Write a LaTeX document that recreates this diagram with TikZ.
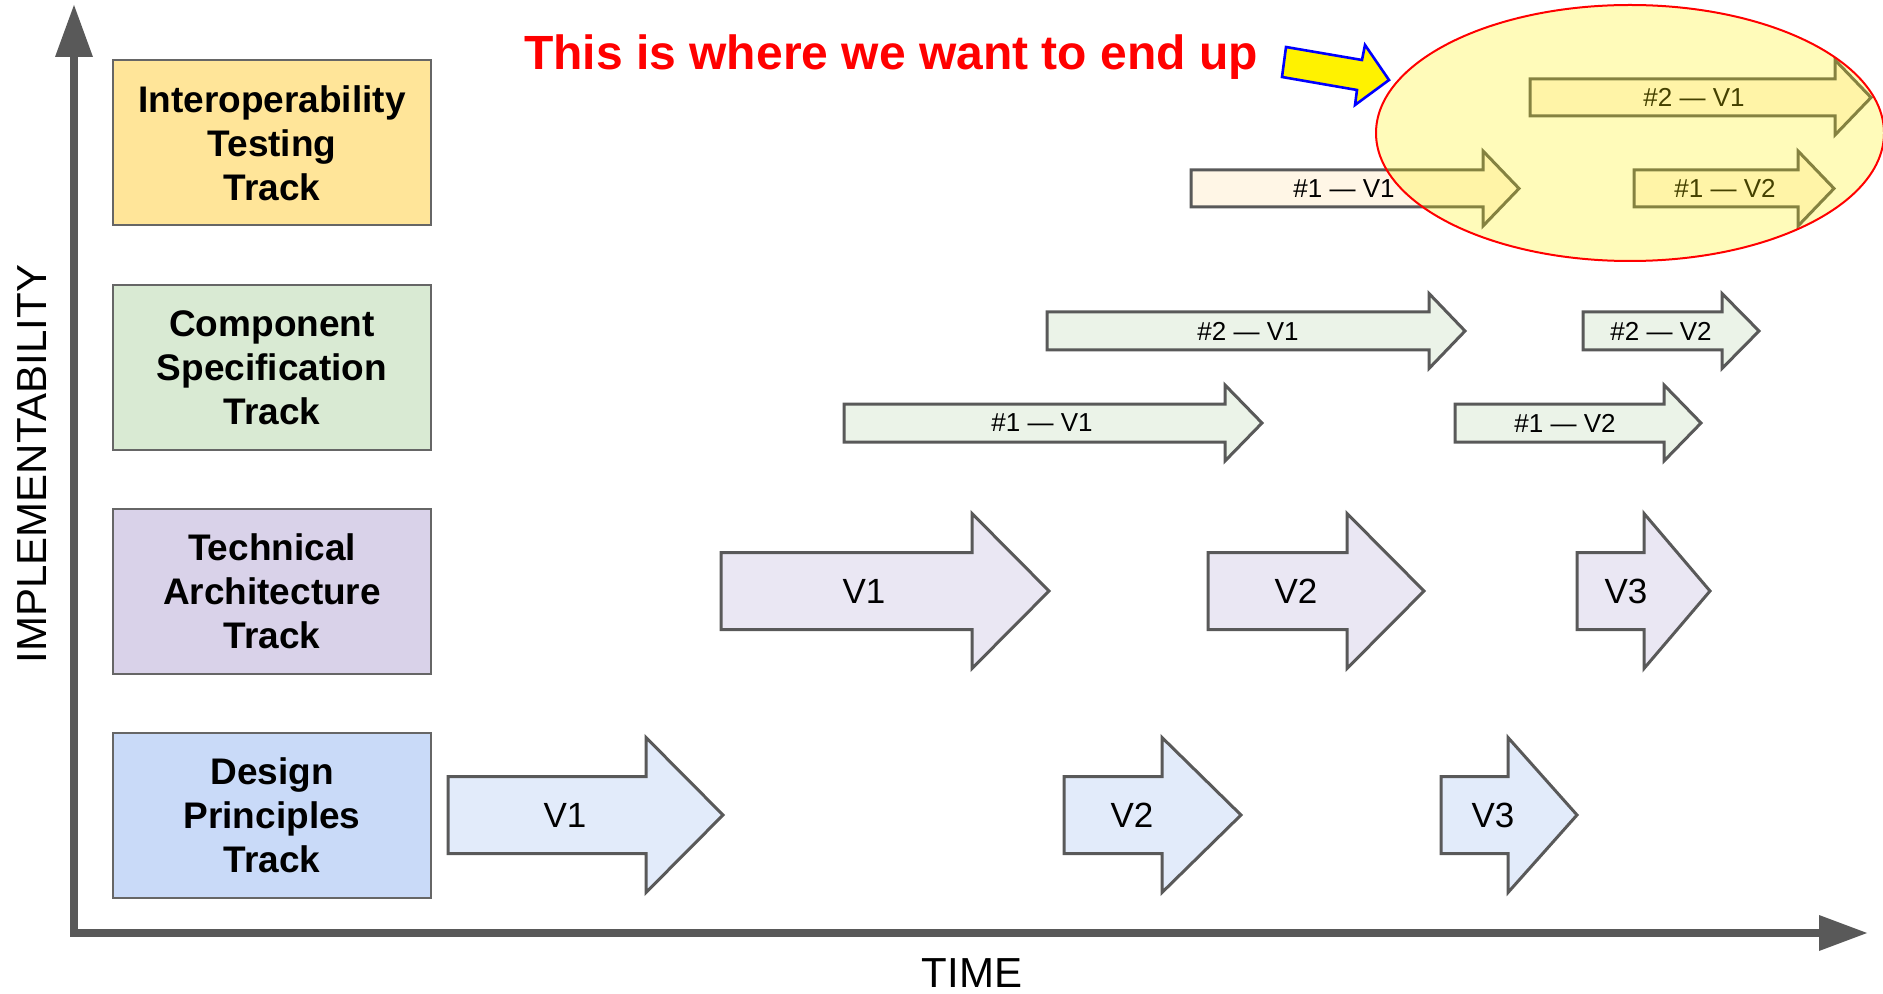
\documentclass[tikz,border=0pt]{standalone}
\usepackage{fontspec}
\setmainfont{Liberation Sans}
\usetikzlibrary{shapes.geometric}
\definecolor{axisgray}{HTML}{595959}
\definecolor{boxgray}{HTML}{666666}
\definecolor{interopfill}{HTML}{FFE599}
\definecolor{compfill}{HTML}{D9EAD3}
\definecolor{techfill}{HTML}{D9D2E9}
\definecolor{designfill}{HTML}{C9DAF8}
\definecolor{darrow}{HTML}{E2EBFA}
\definecolor{tarrow}{HTML}{EAE7F3}
\definecolor{carrow}{HTML}{EBF3E8}
\definecolor{iarrow}{HTML}{FFF6E6}
\newcommand\trackarrow[8]{%
  \draw[#1] ({#3},{#6-#7}) -- ({#4},{#6-#7}) -- ({#4},{#6-#8}) -- ({#5},{#6})
    -- ({#4},{#6+#8}) -- ({#4},{#6+#7}) -- ({#3},{#6+#7}) -- cycle;
  \coordinate (#2) at ({#3},{#6});}
\begin{document}
\begin{tikzpicture}[x=0.5pt,y=-0.5pt,
  trackbox/.style={draw=boxgray, line width=1pt, minimum width=159pt, minimum height=82.5pt,
    align=center, font=\fontsize{18.5}{22}\selectfont\bfseries, inner sep=0pt},
  arr/.style={draw=axisgray, line width=1.5pt, line join=miter},
  biglabel/.style={font=\fontsize{17.5}{20}\selectfont, inner sep=0pt},
  smalllabel/.style={font=\fontsize{13}{15}\selectfont, inner sep=0pt},
  axislabel/.style={font=\fontsize{21}{24}\selectfont, inner sep=0pt}]
\useasboundingbox (0,0) rectangle (1883,994);

% axes
\coordinate (origin) at (74,933);
\coordinate (ytip) at (74,5);
\coordinate (xtip) at (1867,933);
\draw[axisgray, line width=4pt] (70,933) -- (74,933) -- (74,55);
\draw[axisgray, line width=4pt] (origin) -- (1822,933);
\fill[axisgray] (ytip) -- (93,57) -- (55,57) -- cycle;
\fill[axisgray] (xtip) -- (1819,915) -- (1819,951) -- cycle;
\node[axislabel, rotate=90] (ylab) at (32,464) {IMPLEMENTABILITY};
\node[axislabel] (xlab) at (972,973) {TIME};

% track boxes
\node[trackbox, fill=interopfill] (interop) at (272,143) {Interoperability\\Testing\\Track};
\node[trackbox, fill=compfill] (comp) at (272,367.5) {Component\\Specification\\Track};
\node[trackbox, fill=techfill] (tech) at (272,591.5) {Technical\\Architecture\\Track};
\node[trackbox, fill=designfill] (design) at (272,815.5) {Design\\Principles\\Track};

% design principles arrows
\trackarrow{arr, fill=darrow}{dv1}{448}{646}{723}{815}{38.5}{77.5}
\node[biglabel] (ldv1) at (565,815) {V1};
\trackarrow{arr, fill=darrow}{dv2}{1064}{1162}{1241}{815}{38.5}{77.5}
\node[biglabel] (ldv2) at (1132,815) {V2};
\trackarrow{arr, fill=darrow}{dv3}{1441}{1508}{1577}{815}{38.5}{77.5}
\node[biglabel] (ldv3) at (1493,815) {V3};

% technical architecture arrows
\trackarrow{arr, fill=tarrow}{tv1}{721}{972}{1049}{591}{38.5}{77.5}
\node[biglabel] (ltv1) at (864,591) {V1};
\trackarrow{arr, fill=tarrow}{tv2}{1208}{1347}{1424}{591}{38.5}{77.5}
\node[biglabel] (ltv2) at (1296,591) {V2};
\trackarrow{arr, fill=tarrow}{tv3}{1577}{1644}{1710}{591}{38.5}{77.5}
\node[biglabel] (ltv3) at (1626,591) {V3};

% component specification arrows
\trackarrow{arr, fill=carrow}{c2v1}{1047}{1429}{1465}{331}{19}{37.5}
\node[smalllabel] (lc2v1) at (1248,331) {\#2 — V1};
\trackarrow{arr, fill=carrow}{c2v2}{1583}{1722}{1759}{331}{19}{37.5}
\node[smalllabel] (lc2v2) at (1661,331) {\#2 — V2};
\trackarrow{arr, fill=carrow}{c1v1}{844}{1225}{1262}{423}{19}{38}
\node[smalllabel] (lc1v1) at (1042,423) {\#1 — V1};
\trackarrow{arr, fill=carrow}{c1v2}{1455}{1664}{1701}{423}{19}{38}
\node[smalllabel] (lc1v2) at (1565,423) {\#1 — V2};

% interoperability arrows
\trackarrow{arr, fill=iarrow}{i2v1}{1530}{1835}{1871}{97.5}{18.5}{37.5}
\node[smalllabel] (li2v1) at (1694,97.5) {\#2 — V1};
\trackarrow{arr, fill=iarrow}{i1v1}{1191}{1483}{1519}{188.5}{18.5}{37.5}
\node[smalllabel] (li1v1) at (1344,188.5) {\#1 — V1};
\trackarrow{arr, fill=iarrow}{i1v2}{1634}{1798}{1834}{188.5}{18.5}{37.5}
\node[smalllabel] (li1v2) at (1725,188.5) {\#1 — V2};

% goal ellipse
\node[draw=red, line width=1pt, fill=yellow, fill opacity=0.27, draw opacity=1,
  ellipse, minimum width=254pt, minimum height=128pt, inner sep=0pt] (goal) at (1630,133) {};

% pointer arrow
\draw[draw=blue, fill=yellow, line width=1.3pt, line join=miter]
  (1286,47) -- (1362,60) -- (1365,45) -- (1389,80) -- (1355,105) -- (1357,90) -- (1282,77) -- cycle;

% title
\node[anchor=base, text=red, font=\fontsize{24}{28}\selectfont\bfseries, inner sep=0pt] (title)
  at (891,70) {This is where we want to end up};
\end{tikzpicture}
\end{document}
